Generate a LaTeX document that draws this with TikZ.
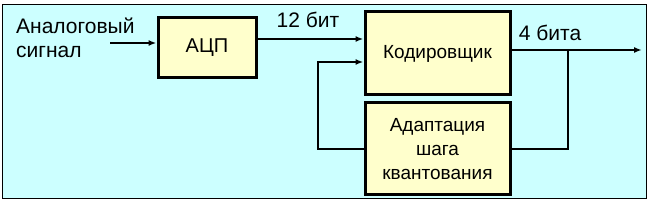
\documentclass[tikz,border=0pt]{standalone}
\usepackage{fontspec}
\setmainfont{Liberation Sans}
\usetikzlibrary{arrows.meta, positioning, calc}
\definecolor{bgcyan}{HTML}{CCFFFF}
\definecolor{boxyellow}{HTML}{FFFFCC}
\tikzset{
    unit/.style={draw, rectangle, fill=boxyellow, line width=3pt, align=center, font=\fontsize{19}{24}\selectfont, inner sep=0pt},
    label/.style={align=left, font=\fontsize{21}{24}\selectfont, inner sep=0pt},
    arrow/.style={draw, -{Latex[length=8pt, width=6pt]}, line width=1.6pt},
    wire/.style={draw, line width=1.6pt}
}
\begin{document}
\begin{tikzpicture}[x=1pt, y=1pt]
    \useasboundingbox (0,0) rectangle (649,203);
    \draw [fill=bgcyan, line width=1pt] (2,4) rectangle (646,198);

    \node [unit, minimum width=98pt, minimum height=60pt, font=\fontsize{20}{24}\selectfont] (adc) at (207,155) {АЦП};
    \node [unit, minimum width=145pt, minimum height=83pt] (coder) at (437.5,149.5) {Кодировщик};
    \node [unit, minimum width=145pt, minimum height=92pt] (adapt) at (437.5,54) {Адаптация\\шага\\квантования};

    \node [label, anchor=west] (src) at (16,165) {Аналоговый\\сигнал};
    \node [label] (bits12) at (308,183) {12 бит};
    \node [label] (bits4) at (550,170) {4 бита};

    \coordinate (in) at (110,160);
    \coordinate (out) at (642,153);
    \coordinate (tap) at (568,153);
    \coordinate (back) at (318,59);

    \draw [arrow] (in) -- (adc.west |- in);
    \draw [arrow] (adc.east |- 0,164) -- (coder.west |- 0,164);
    \draw [arrow] (coder.east |- out) -- (out);
    \draw [wire] (tap) |- (adapt.east);
    \draw [arrow] (adapt.west) -| (back |- 0,141) -- (coder.west |- 0,141);
\end{tikzpicture}
\end{document}
